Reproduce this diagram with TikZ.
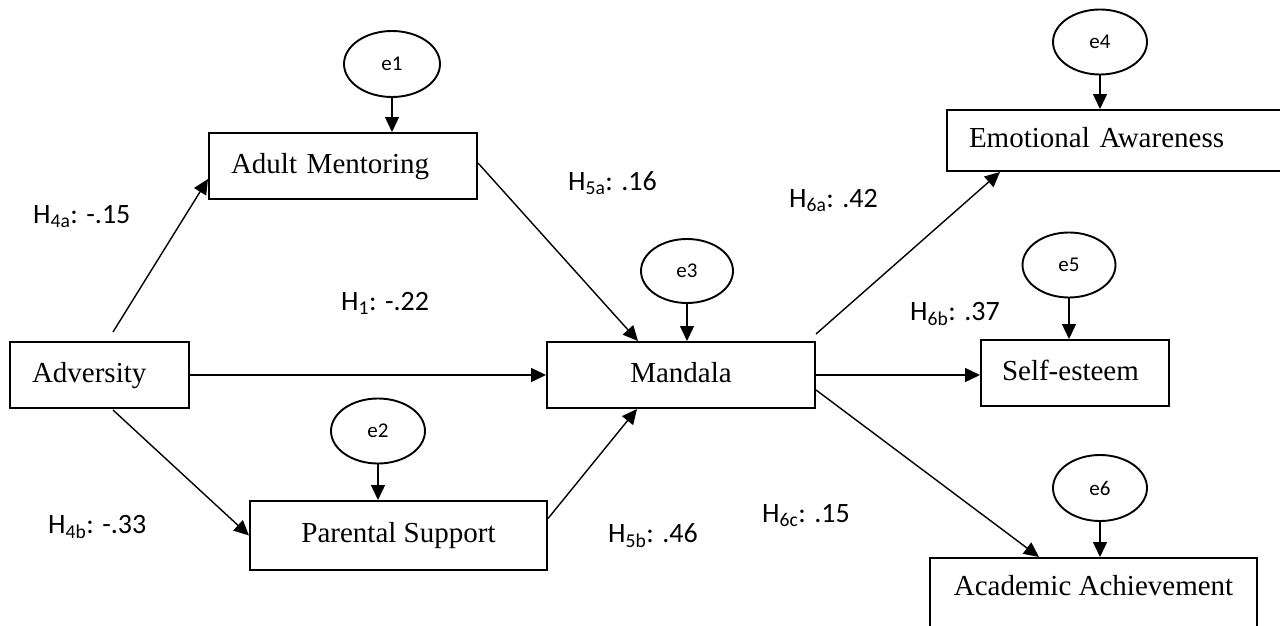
\documentclass[tikz,border=0pt]{standalone}
\usepackage{fontspec}
\setmainfont{Liberation Serif}
\newfontfamily\calibri{Carlito}
\usetikzlibrary{arrows.meta,calc,shapes.geometric}
\begin{document}
\begin{tikzpicture}[x=1pt,y=-1pt,
  box/.style={draw, line width=2pt, font=\fontsize{29}{33}\selectfont,
    text height=20pt, text depth=6pt, inner sep=0pt, minimum height=66pt},
  lbox/.style={box, align=left, inner xsep=22pt},
  err/.style={draw, ellipse, line width=1.9pt, minimum width=94pt,
    minimum height=65pt, inner sep=0pt, font=\calibri\fontsize{21}{25}\selectfont},
  conn/.style={line width=1.4pt, -{Triangle[length=15pt,width=14pt]}},
  lab/.style={font=\calibri\fontsize{28}{32}\selectfont, anchor=base west, inner sep=0pt},
]
\useasboundingbox (0,0) rectangle (1280,626);
\fill[white] (0,0) rectangle (1280,626);
\clip (0,0) rectangle (1280,626);

% boxes
\node[lbox, text width=135pt] (adv) at (99.5,375) {Adversity};
\node[lbox, text width=224pt] (am) at (343,166) {Adult Mentoring};
\node[box, minimum width=268pt] (mandala) at (681,375) {Mandala};
\node[box, minimum width=297pt, minimum height=69pt] (ps) at (398.5,535.5) {Parental Support};
\node[lbox, text width=309pt, minimum height=61pt] (ea) at (1123.5,140.5) {Emotional Awareness};
\node[box, align=left, inner xsep=21pt, text width=146pt] (se) at (1075,373) {Self-esteem};
\node[box, minimum width=327pt, minimum height=89pt, text depth=35pt] (aa) at (1093.5,602.5) {Academic Achievement};

% error terms
\node[err, minimum width=96pt, minimum height=66pt] (e1) at (392,64) {e1};
\node[err] (e2) at (378,431) {e2};
\node[err, minimum width=92pt, minimum height=64pt] (e3) at (687,271) {e3};
\node[err] (e4) at (1100,42) {e4};
\node[err, minimum width=93pt] (e5) at (1069,265) {e5};
\node[err, minimum height=66pt] (e6) at (1100,488) {e6};

% error arrows
\draw[conn] (e1.south) -- (e1.south |- am.north);
\draw[conn] (e2.south) -- (e2.south |- ps.north);
\draw[conn] (e3.south) -- (e3.south |- mandala.north);
\draw[conn] (e4.south) -- (e4.south |- ea.north);
\draw[conn] (e5.south) -- (e5.south |- se.north);
\draw[conn] (e6.south) -- (e6.south |- aa.north);

% paths
\draw[conn] ($(adv.north)+(13.5,-9)$) -- ($(am.west)+(0,13)$);
\draw[conn] (adv.east) -- (mandala.west);
\draw[conn] ($(adv.south)+(13.5,1)$) -- (ps.west);
\draw[conn] ($(am.east)+(0,-3)$) -- ($(mandala.north west)+(92,0)$);
\draw[conn] ($(ps.east)+(0,-17)$) -- ($(mandala.south west)+(91,0)$);
\draw[conn] ($(mandala.north east)+(0,-7)$) -- ($(ea.south west)+(54,0)$);
\draw[conn] (mandala.east) -- (mandala.east -| se.west);
\draw[conn] ($(mandala.east)+(0,15)$) -- ($(aa.north west)+(110,0)$);

% labels
\node[lab] (h4a) at (33,223) {H\textsubscript{4a}: -.15};
\node[lab] (h1) at (341,310) {H\textsubscript{1}: -.22};
\node[lab] (h5a) at (568,190) {H\textsubscript{5a}: .16};
\node[lab] (h4b) at (48,533) {H\textsubscript{4b}: -.33};
\node[lab] (h5b) at (608,542) {H\textsubscript{5b}: .46};
\node[lab] (h6a) at (789,207) {H\textsubscript{6a}: .42};
\node[lab] (h6b) at (910,320) {H\textsubscript{6b}: .37};
\node[lab] (h6c) at (762,522) {H\textsubscript{6c}: .15};
\end{tikzpicture}
\end{document}
